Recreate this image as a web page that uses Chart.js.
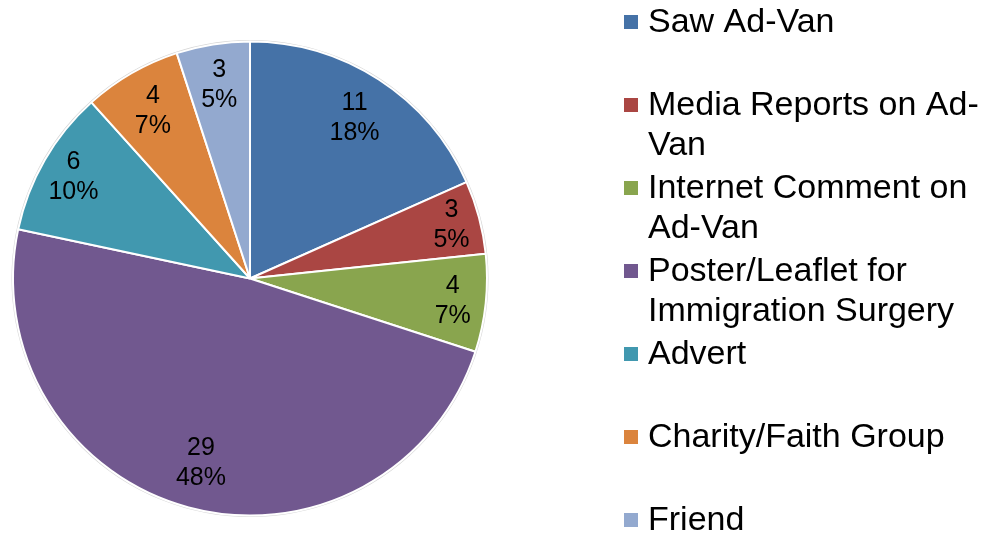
<!DOCTYPE html>
<html>
<head>
<meta charset="utf-8">
<script src="https://cdn.jsdelivr.net/npm/chart.js@4"></script>
<style>
    html, body { margin: 0; padding: 0; background: #ffffff; }
    #wrap { position: relative; width: 991px; height: 543px; }
</style>
</head>
<body>
<div id="wrap"><canvas id="pieChart" width="991" height="543"></canvas></div>
<script>
// Dane wykresu
const categories = [
    ['Saw Ad-Van'],
    ['Media Reports on Ad-', 'Van'],
    ['Internet Comment on', 'Ad-Van'],
    ['Poster/Leaflet for', 'Immigration Surgery'],
    ['Advert'],
    ['Charity/Faith Group'],
    ['Friend']
];
const counts = [11, 3, 4, 29, 6, 4, 3];
const percentLabels = ['18%', '5%', '7%', '48%', '10%', '7%', '5%'];
const sliceColors = ['#4572A7', '#AA4643', '#89A54E', '#71588F', '#4198AF', '#DB843D', '#93A9CF'];

const FONT = '"Liberation Sans", Arial, sans-serif';

// Obrys (delikatny cień) wokół koła
const pieOutline = {
    id: 'pieOutline',
    beforeDatasetsDraw(chart) {
        const arc = chart.getDatasetMeta(0).data[0];
        if (!arc) return;
        const ctx = chart.ctx;
        ctx.save();
        ctx.strokeStyle = '#d6d6d6';
        ctx.lineWidth = 2;
        ctx.beginPath();
        ctx.arc(arc.x, arc.y, arc.outerRadius + 0.5, 0, Math.PI * 2);
        ctx.stroke();
        ctx.restore();
    }
};

// Etykiety danych wewnątrz wycinków
const sliceLabels = {
    id: 'sliceLabels',
    afterDatasetsDraw(chart, args, opts) {
        const ctx = chart.ctx;
        const meta = chart.getDatasetMeta(0);
        ctx.save();
        ctx.fillStyle = '#000000';
        ctx.font = '25px ' + FONT;
        ctx.textAlign = 'center';
        ctx.textBaseline = 'middle';
        meta.data.forEach((arc, i) => {
            const mid = (arc.startAngle + arc.endAngle) / 2;
            const r = arc.outerRadius * (opts.radius[i] || 0.85);
            const x = arc.x + Math.cos(mid) * r;
            const y = arc.y + Math.sin(mid) * r;
            ctx.fillText(String(counts[i]), x, y - 14);
            ctx.fillText(percentLabels[i], x, y + 16);
        });
        ctx.restore();
    }
};

// Legenda po prawej stronie
const sideLegend = {
    id: 'sideLegend',
    afterDraw(chart) {
        const ctx = chart.ctx;
        ctx.save();
        ctx.font = '34px ' + FONT;
        ctx.textBaseline = 'middle';
        ctx.textAlign = 'left';
        chart.data.labels.forEach((lines, i) => {
            const y = 22 + i * 83;
            ctx.fillStyle = sliceColors[i];
            ctx.fillRect(624, y - 7, 14, 14);
            ctx.fillStyle = '#000000';
            lines.forEach((line, j) => {
                ctx.fillText(line, 648, y + 1 + j * 40);
            });
        });
        ctx.restore();
    }
};

new Chart(document.getElementById('pieChart'), {
    type: 'pie',
    data: {
        labels: categories,
        datasets: [{
            data: counts,
            backgroundColor: sliceColors,
            borderColor: '#ffffff',
            borderWidth: 2
        }]
    },
    options: {
        responsive: false,
        animation: false,
        layout: {
            padding: { left: 12, right: 503, top: 40, bottom: 26 }
        },
        plugins: {
            legend: { display: false },
            tooltip: { enabled: false },
            sliceLabels: { radius: [0.81, 0.88, 0.86, 0.80, 0.86, 0.82, 0.83] }
        }
    },
    plugins: [pieOutline, sliceLabels, sideLegend]
});
</script>
</body>
</html>
